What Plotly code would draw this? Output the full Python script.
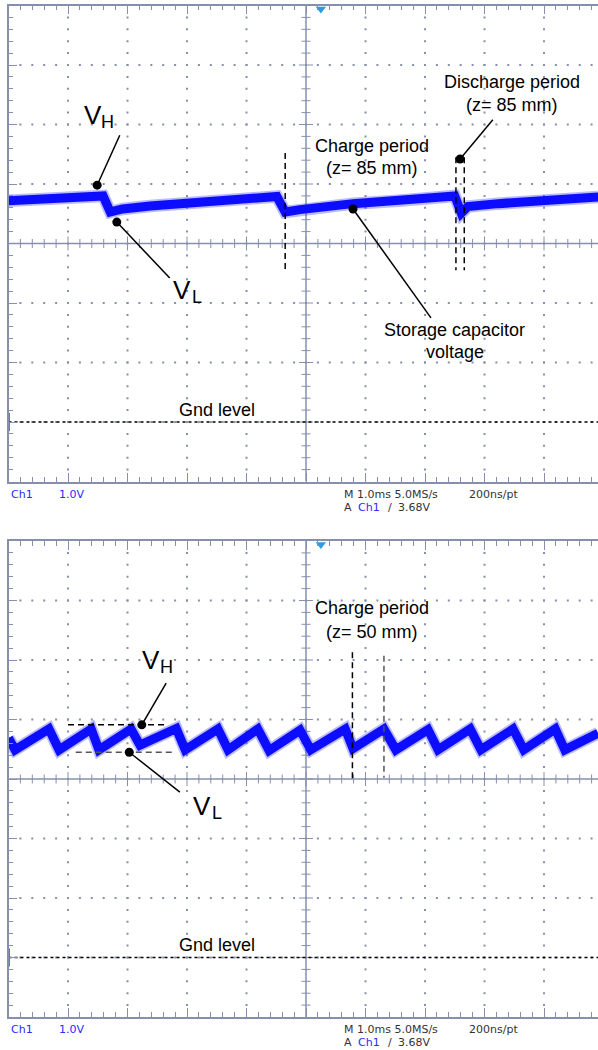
import plotly.graph_objects as go

# ---------------------------------------------------------------------------
# Storage-capacitor voltage, Ch1 1.0 V/div, 1.0 ms/div (two scope captures)
# ---------------------------------------------------------------------------
# z = 85 mm capture
t_top_ms = [0.00, 1.59, 1.71, 1.92, 2.38, 3.22, 4.51, 4.65, 4.90, 5.79, 6.55,
            7.50, 7.61, 7.72, 8.23, 9.91]
v_top = [3.72, 3.80, 3.53, 3.58, 3.63, 3.70, 3.79, 3.53, 3.57, 3.67, 3.72,
         3.80, 3.51, 3.62, 3.67, 3.78]

# z = 50 mm capture
t_bot_ms = [0.00, 0.11, 0.68, 0.85, 1.39, 1.52, 2.06, 2.21, 2.82, 2.97, 3.52,
            3.69, 4.19, 4.38, 4.90, 5.08, 5.66, 5.79, 6.31, 6.51, 7.05, 7.22,
            7.76, 7.94, 8.48, 8.66, 9.19, 9.35, 9.91]
v_bot = [3.69, 3.49, 3.84, 3.49, 3.84, 3.49, 3.84, 3.57, 3.85, 3.49, 3.84,
         3.49, 3.84, 3.48, 3.82, 3.49, 3.84, 3.51, 3.84, 3.49, 3.83, 3.49,
         3.84, 3.49, 3.84, 3.49, 3.84, 3.49, 3.77]

trigger_t_ms = 5.25
status_row1 = ["Ch1", "1.0V", "M 1.0ms 5.0MS/s", "200ns/pt"]
status_row2 = ["A", "Ch1", "/", "3.68V"]

# ---------------------------------------------------------------------------
W, H = 598, 1050
DIV_PX = 59.5          # one graticule division
LEFT_PX = 8.5          # left edge of both screens
PANEL_TOPS_PX = [5.5, 541.0]
N_YDIV = 8
Y_MIN, Y_MAX = -1.0, 7.0            # volts (ground one division above bottom)
X_MAX = (W - LEFT_PX) / DIV_PX      # visible part of the 10-division screen

GRAT = "#8690ad"
TRACE = "#0c0cff"
FONT = "Liberation Sans, Arial, sans-serif"
SCOPE_FONT = "DejaVu Sans, sans-serif"


def ypaper(px):
    return 1 - px / H


fig = go.Figure()
layout = dict(width=W, height=H, margin=dict(l=0, r=0, t=0, b=0),
              paper_bgcolor="white", plot_bgcolor="white", showlegend=False)
annotations, shapes = [], []

for i, top in enumerate(PANEL_TOPS_PX):
    sfx = "" if i == 0 else str(i + 1)
    xa, ya = "x" + sfx, "y" + sfx
    bottom = top + N_YDIV * DIV_PX
    layout["xaxis" + sfx] = dict(
        domain=[LEFT_PX / W, 1], range=[0, X_MAX], anchor=ya,
        showline=True, linecolor=GRAT, linewidth=1.5, mirror="ticks",
        ticks="inside", ticklen=9, tickwidth=1, tickcolor=GRAT, dtick=1, tick0=0,
        minor=dict(ticks="inside", ticklen=5, dtick=0.2, tick0=0,
                   tickcolor=GRAT, tickwidth=1, showgrid=False),
        showticklabels=False, showgrid=False, zeroline=False, fixedrange=True)
    layout["yaxis" + sfx] = dict(
        domain=[ypaper(bottom), ypaper(top)], range=[Y_MIN, Y_MAX], anchor=xa,
        showline=True, linecolor=GRAT, linewidth=1.5, mirror=False,
        ticks="inside", ticklen=9, tickwidth=1, tickcolor=GRAT, dtick=1, tick0=Y_MIN,
        minor=dict(ticks="inside", ticklen=5, dtick=0.2, tick0=Y_MIN,
                   tickcolor=GRAT, tickwidth=1, showgrid=False),
        showticklabels=False, showgrid=False, zeroline=False, fixedrange=True)

    # dotted graticule
    dx, dy = [], []
    for gx in range(1, 10):
        if gx == 5:
            continue
        for k in range(1, 40):
            dx.append(gx)
            dy.append(Y_MIN + 0.2 * k)
    for gy in range(0, 7):
        yv = Y_MIN + 1 + gy
        if yv == 3:
            continue
        for k in range(1, 50):
            dx.append(0.2 * k)
            dy.append(yv)
    fig.add_trace(go.Scatter(x=dx, y=dy, mode="markers", xaxis=xa, yaxis=ya,
                             marker=dict(symbol="square", size=2, color=GRAT),
                             hoverinfo="skip"))

    # centre cross with its ticks
    fig.add_trace(go.Scatter(x=[5, 5, None, 0, 10], y=[Y_MIN, Y_MAX, None, 3, 3],
                             mode="lines", xaxis=xa, yaxis=ya,
                             line=dict(color=GRAT, width=1.5), hoverinfo="skip"))
    tx, ty = [], []
    for k in range(1, 40):
        yv = Y_MIN + 0.2 * k
        half = (7 if k % 5 == 0 else 4.5) / DIV_PX
        tx += [5 - half, 5 + half, None]
        ty += [yv, yv, None]
    for k in range(1, 50):
        xv = 0.2 * k
        half = (7 if k % 5 == 0 else 4.5) / DIV_PX
        tx += [xv, xv, None]
        ty += [3 - half, 3 + half, None]
    fig.add_trace(go.Scatter(x=tx, y=ty, mode="lines", xaxis=xa, yaxis=ya,
                             line=dict(color=GRAT, width=1), hoverinfo="skip"))

    # ground level
    fig.add_trace(go.Scatter(x=[0, X_MAX], y=[0, 0], mode="lines", xaxis=xa, yaxis=ya,
                             line=dict(color="black", width=1.5, dash="dot"),
                             hoverinfo="skip"))
    fig.add_trace(go.Scatter(x=[0], y=[0], mode="markers", xaxis=xa, yaxis=ya,
                             cliponaxis=False, hoverinfo="skip",
                             marker=dict(symbol="line-ns", size=13,
                                         line=dict(width=2.5, color="#2a40ff"))))
    # trigger position
    fig.add_trace(go.Scatter(x=[trigger_t_ms], y=[Y_MAX - 0.06], mode="markers",
                             xaxis=xa, yaxis=ya, cliponaxis=False, hoverinfo="skip",
                             marker=dict(symbol="triangle-down", size=9,
                                         color="#2b9be4")))

    # waveform: faint noise fringe plus solid core
    tt, vv = (t_top_ms, v_top) if i == 0 else (t_bot_ms, v_bot)
    fig.add_trace(go.Scatter(x=tt, y=vv, mode="lines", xaxis=xa, yaxis=ya,
                             line=dict(color="rgba(30,30,255,0.3)", width=12.5),
                             hoverinfo="skip"))
    fig.add_trace(go.Scatter(x=tt, y=vv, mode="lines", xaxis=xa, yaxis=ya,
                             line=dict(color=TRACE, width=9), hoverinfo="skip"))

    # status readout under the screen
    r1, r2 = bottom + 12.5, bottom + 25.5
    blue, dark = "#2a2aff", "#333333"
    row1_x = [9, 57, 342, 467]
    row1_c = [blue, blue, dark, dark]
    row2_x = [342, 356, 386, 396]
    row2_c = [dark, blue, dark, dark]
    for txt, px, c in zip(status_row1, row1_x, row1_c):
        annotations.append(dict(text=txt, x=px / W, y=ypaper(r1), xref="paper",
                                yref="paper", xanchor="left", yanchor="middle",
                                showarrow=False, font=dict(family=SCOPE_FONT, size=11, color=c)))
    for txt, px, c in zip(status_row2, row2_x, row2_c):
        annotations.append(dict(text=txt, x=px / W, y=ypaper(r2), xref="paper",
                                yref="paper", xanchor="left", yanchor="middle",
                                showarrow=False, font=dict(family=SCOPE_FONT, size=11, color=c)))


def label(text, x, y, xa, ya, size=18, anchor="center"):
    annotations.append(dict(text=text, x=x, y=y, xref=xa, yref=ya, showarrow=False,
                            xanchor=anchor, yanchor="middle",
                            font=dict(family=FONT, size=size, color="black")))


def two_lines(l1, l2, x, y1, y2, xa, ya):
    label(l1, x, y1, xa, ya)
    label(l2, x, y2, xa, ya)


def volt_label(sub, x, y, xs, ys, xa, ya):
    # large "V" with a smaller subscript letter beside it
    label("V", x, y, xa, ya, size=26)
    label(sub, xs, ys, xa, ya, size=18)


def seg(x0, y0, x1, y1, xa, ya, dash="solid", color="black", width=1.5):
    shapes.append(dict(type="line", xref=xa, yref=ya, x0=x0, y0=y0, x1=x1, y1=y1,
                       line=dict(color=color, width=width, dash=dash)))


def dot(x, y, xa, ya):
    shapes.append(dict(type="circle", xref=xa, yref=ya, xsizemode="pixel",
                       ysizemode="pixel", xanchor=x, yanchor=y,
                       x0=-4.5, x1=4.5, y0=-4.5, y1=4.5,
                       fillcolor="black", line=dict(width=0)))


DASH = "6px,4px"

# --- upper screen (z = 85 mm) ---
volt_label("H", 1.42, 5.16, 1.67, 5.04, "x", "y")
volt_label("L", 2.92, 2.22, 3.17, 2.10, "x", "y")
two_lines("Charge period", "(z= 85 mm)", 6.11, 4.64, 4.27, "x", "y")
two_lines("Discharge period", "(z= 85 mm)", 8.46, 5.71, 5.33, "x", "y")
two_lines("Storage capacitor", "voltage", 7.50, 1.55, 1.18, "x", "y")
label("Gnd level", 3.50, 0.20, "x", "y")
seg(1.49, 3.98, 1.87, 4.82, "x", "y")
seg(1.82, 3.36, 2.71, 2.42, "x", "y")
seg(5.79, 3.58, 7.10, 1.75, "x", "y")
seg(7.59, 4.42, 8.14, 5.08, "x", "y")
seg(4.65, 4.52, 4.65, 2.55, "x", "y", dash=DASH)
seg(7.52, 4.45, 7.52, 2.55, "x", "y", dash=DASH)
seg(7.66, 4.45, 7.66, 2.55, "x", "y", dash=DASH)
for p in [(1.49, 3.98), (1.82, 3.36), (5.79, 3.58), (7.59, 4.42)]:
    dot(p[0], p[1], "x", "y")

# --- lower screen (z = 50 mm) ---
volt_label("H", 2.39, 5.00, 2.65, 4.88, "x2", "y2")
volt_label("L", 3.25, 2.55, 3.50, 2.43, "x2", "y2")
two_lines("Charge period", "(z= 50 mm)", 6.11, 5.88, 5.47, "x2", "y2")
label("Gnd level", 3.50, 0.21, "x2", "y2")
seg(1.00, 3.91, 2.65, 3.91, "x2", "y2", dash=DASH)
seg(1.13, 3.45, 2.76, 3.45, "x2", "y2", dash=DASH, color="#555555")
seg(2.24, 3.91, 2.65, 4.61, "x2", "y2")
seg(2.03, 3.45, 2.88, 2.78, "x2", "y2")
seg(5.78, 5.13, 5.78, 2.98, "x2", "y2", dash=DASH)
seg(6.31, 5.07, 6.31, 3.02, "x2", "y2", dash=DASH, color="#555555")
for p in [(2.24, 3.91), (2.03, 3.45)]:
    dot(p[0], p[1], "x2", "y2")

layout["annotations"] = annotations
layout["shapes"] = shapes
fig.update_layout(**layout)
fig.write_html("out.html")
